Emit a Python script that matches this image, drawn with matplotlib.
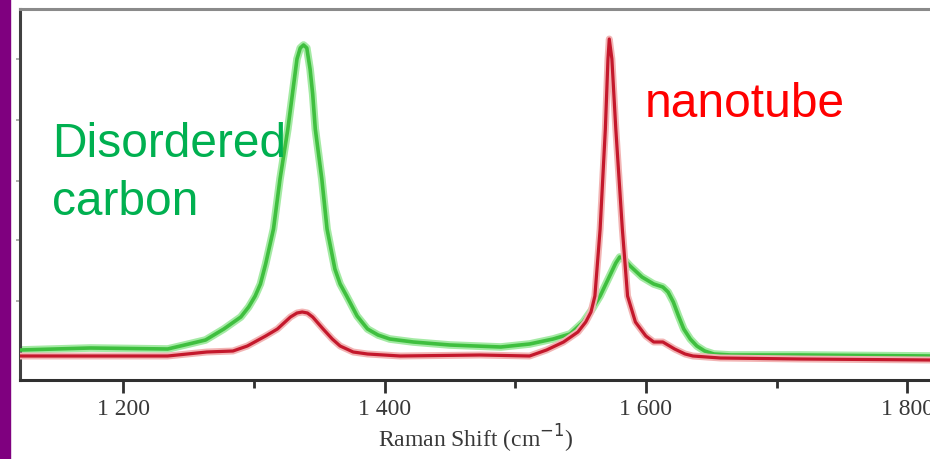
import matplotlib
matplotlib.use("Agg")
import matplotlib.pyplot as plt
from matplotlib.patches import Rectangle

# Raman shift (cm^-1) and intensity (arb. units) for disordered carbon
carbon_shift = [1121, 1175, 1234, 1247, 1263, 1277, 1290, 1296, 1301, 1305, 1309,
                1315, 1320, 1326, 1331, 1333, 1335.5, 1338, 1340.5, 1343, 1345,
                1347, 1352, 1356, 1362, 1366, 1371, 1379, 1387, 1395,
                1404, 1422, 1450, 1489, 1511, 1529, 1542, 1552, 1559, 1565, 1573,
                1577, 1580, 1583, 1588, 1597, 1606, 1613, 1617, 1621, 1625, 1629,
                1634, 1639, 1645, 1652, 1665, 1718, 1818]
carbon_intensity = [30, 32, 31, 35, 40, 51, 63, 73, 84, 96, 116,
                    151, 201, 251, 301, 321, 332, 335, 332, 311, 286,
                    251, 201, 151, 111, 96, 84, 64, 51, 45,
                    41, 38, 35, 33, 36, 41, 46, 58, 71, 84, 106,
                    117, 123, 121, 114, 103, 96, 93, 88, 78, 64, 51,
                    41, 34, 29, 26, 25, 25, 24]

# Raman shift (cm^-1) and intensity (arb. units) for the nanotube sample
tube_shift = [1121, 1182, 1234, 1264, 1284, 1295, 1309, 1318, 1328, 1333, 1337, 1341,
              1345, 1353, 1360, 1366, 1376, 1387, 1412, 1473, 1511, 1524, 1537, 1548,
              1554, 1558, 1561, 1565, 1569, 1571, 1572, 1574, 1577, 1582, 1586,
              1592, 1600, 1606, 1613, 1622, 1630, 1636, 1657, 1718, 1818]
tube_intensity = [24, 24, 24, 28, 29, 34, 44, 51, 63, 67, 68, 67,
                  63, 51, 41, 34, 28, 26, 24, 25, 24, 30, 38, 48,
                  58, 68, 84, 151, 251, 321, 341, 321, 251, 151, 84,
                  58, 44, 38, 38, 31, 26, 24, 22, 21, 20]

major_ticks = [1200, 1400, 1600, 1800]
major_labels = ["1 200", "1 400", "1 600", "1 800"]
minor_ticks = [1300, 1500, 1700]
y_ticks = [79, 140, 199, 260, 321]

fig = plt.figure(figsize=(9.3, 4.6), dpi=100)
fig.patches.append(Rectangle((0, 0), 10 / 930, 1, transform=fig.transFigure,
                             color="#7f007f", zorder=0))

ax = fig.add_axes([20 / 930, 79 / 460, 912 / 930, 371 / 460])
ax.set_xlim(1121, 1819)
ax.set_ylim(0, 371)

# soft halo under each trace, then the darker core line
line_kw = dict(solid_joinstyle="round", solid_capstyle="round")
ax.plot(carbon_shift, carbon_intensity, color="#a4eaa4", lw=5.5, zorder=2, **line_kw)
ax.plot(carbon_shift, carbon_intensity, color="#3fbf3f", lw=2.6, zorder=3, **line_kw)
ax.plot(tube_shift, tube_intensity, color="#f2b4b4", lw=5.0, zorder=4, **line_kw)
ax.plot(tube_shift, tube_intensity, color="#c4182c", lw=2.3, zorder=5, **line_kw)

ax.spines["right"].set_visible(False)
ax.spines["top"].set_color("#8a8a8a")
ax.spines["top"].set_linewidth(2.2)
ax.spines["left"].set_color("#404040")
ax.spines["left"].set_linewidth(2.2)
ax.spines["bottom"].set_color("#303030")
ax.spines["bottom"].set_linewidth(2.2)

ax.set_xticks(major_ticks)
ax.set_xticklabels(major_labels, fontfamily="Liberation Serif", fontsize=17, color="#383838")
ax.set_xticks(minor_ticks, minor=True)
ax.tick_params(axis="x", which="major", direction="out", length=9, width=2, color="#303030", pad=4)
ax.tick_params(axis="x", which="minor", direction="out", length=6, width=2, color="#303030")
ax.set_yticks(y_ticks)
ax.set_yticklabels([])
ax.tick_params(axis="y", direction="out", length=3, width=1.2, color="#a0a0a0")

ax.set_xlabel("Raman Shift (cm$^{-1}$)", fontfamily="Liberation Serif", fontsize=17,
              color="#383838", labelpad=2)

ax.text(1145.5, 224, "Disordered", fontfamily="Liberation Sans", fontsize=34.5,
        color="#00b050", ha="left", va="baseline")
ax.text(1145.5, 166, "carbon", fontfamily="Liberation Sans", fontsize=34.5,
        color="#00b050", ha="left", va="baseline")
ax.text(1599.5, 264, "nanotube", fontfamily="Liberation Sans", fontsize=34.5,
        color="#ff0000", ha="left", va="baseline")

fig.savefig("out.png", dpi=100)
